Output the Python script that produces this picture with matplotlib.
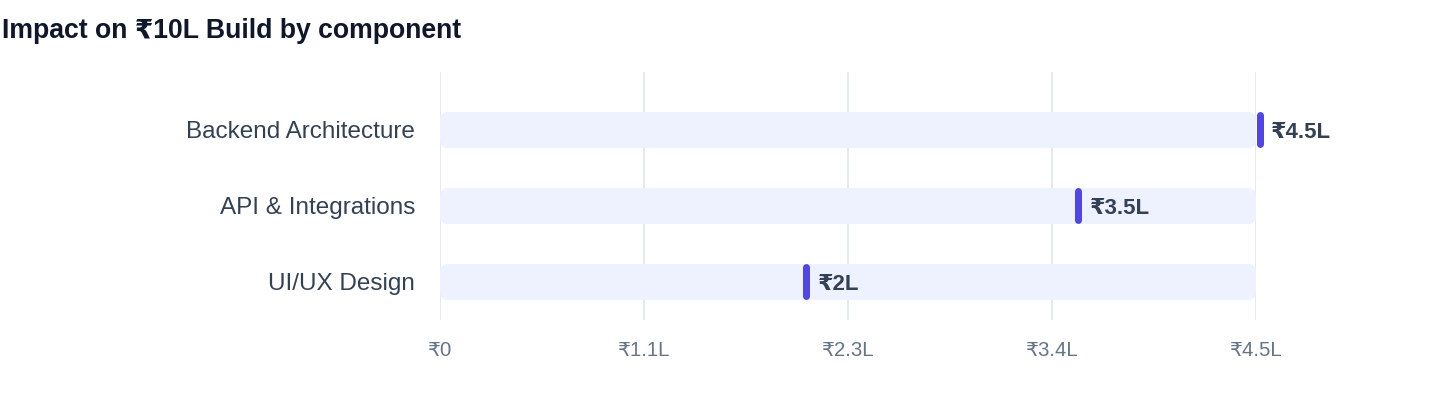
import matplotlib
matplotlib.use("Agg")
import matplotlib.pyplot as plt
import matplotlib.transforms as mtransforms
from matplotlib.patches import FancyBboxPatch

plt.rcParams['font.family'] = ['Liberation Sans', 'DejaVu Sans']

# data
components = ["Backend Architecture", "API & Integrations", "UI/UX Design"]
values = [4.5, 3.5, 2.0]
value_labels = ["₹4.5L", "₹3.5L", "₹2L"]
x_max = 4.5
tick_vals = [0, 1.125, 2.25, 3.375, 4.5]
tick_labels = ["₹0", "₹1.1L", "₹2.3L", "₹3.4L", "₹4.5L"]

W, H, DPI = 14.4, 4.08, 100
fig = plt.figure(figsize=(W, H), dpi=DPI)
ax = fig.add_axes([440 / 1440, 1 - 320 / 408, 816 / 1440, 248 / 408])

ys = list(range(len(components)))
ax.set_xlim(0, x_max)
ax.set_ylim(2.5, -0.763)

# px -> data scales
px_x = x_max / 816.0
px_y = 3.263 / 248.0
bar_h = 36 * px_y
r = 8 * px_x

for y in ys:
    bg = FancyBboxPatch((0, y - bar_h / 2), x_max, bar_h,
                        boxstyle="round,pad=0,rounding_size=%f" % r,
                        mutation_aspect=px_y / px_x,
                        facecolor="#EEF1FE", edgecolor="none", zorder=1)
    ax.add_patch(bg)

# markers
offset = mtransforms.ScaledTranslation(3.5 / DPI, 0, fig.dpi_scale_trans)
for y, v, lab in zip(ys, values, value_labels):
    half = bar_h / 2 - 3.5 * px_y
    ax.plot([v, v], [y - half, y + half], color="#4F46E5", lw=7 * 72 / DPI,
            solid_capstyle="round", zorder=3, clip_on=False,
            transform=ax.transData + offset)
    ax.annotate(lab, (v, y), xytext=(11, 0), textcoords="offset points",
                ha="left", va="center_baseline", fontsize=16, fontweight="bold",
                color="#334155", zorder=4, annotation_clip=False)

ax.set_xticks(tick_vals)
ax.set_xticklabels(tick_labels, fontsize=14.7, color="#64748B")
ax.set_yticks(ys)
ax.set_yticklabels(components, fontsize=17.5, color="#334155")
ax.tick_params(axis="x", length=0, pad=15)
ax.tick_params(axis="y", length=0, pad=18)
ax.grid(axis="x", color="#E2E8F0", lw=1.3, zorder=0)
ax.set_axisbelow(True)
for s in ax.spines.values():
    s.set_visible(False)

fig.text(2 / 1440, 1 - 31 / 408, "Impact on ₹10L Build by component",
         fontsize=19.2, fontweight="bold", color="#0F172A", va="center", ha="left")

fig.savefig("out.png", dpi=DPI)
